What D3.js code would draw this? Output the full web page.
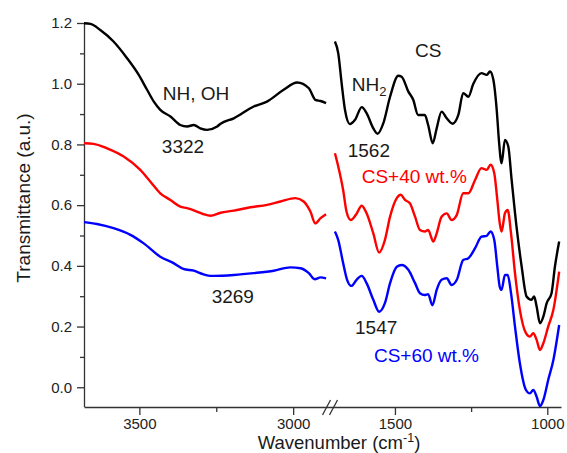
<!DOCTYPE html>
<html>
<head>
<meta charset="utf-8">
<script src="https://cdn.jsdelivr.net/npm/d3@7"></script>
<style>
  body { margin: 0; background: #fff; }
  svg { display: block; font-family: Arial, "Liberation Sans", sans-serif; }
</style>
</head>
<body>
<div id="chart"></div>
<script>
// FTIR spectra, [wavenumber cm-1, transmittance a.u.]
var csLeft = [[3680,1.199],[3659,1.197],[3627,1.177],[3584,1.139],[3540,1.084],[3502,1.029],[3475,0.980],
    [3453,0.941],[3432,0.914],[3399,0.892],[3367,0.864],[3345,0.859],[3323,0.864],[3302,0.853],[3280,0.848],
    [3247,0.859],[3236,0.868],[3193,0.886],[3128,0.925],[3085,0.941],[3031,0.980],[2987,1.004],[2949,0.985],
    [2928,0.947],[2911,0.943],[2893,0.936]];
var csRight = [[1697,1.139],[1686,1.100],[1675,1.002],[1664,0.914],[1648,0.867],[1631,0.881],[1609,0.923],
    [1593,0.903],[1571,0.853],[1557,0.835],[1538,0.870],[1516,0.957],[1489,1.026],[1478,1.023],[1456,0.974],
    [1440,0.947],[1424,0.897],[1402,0.897],[1391,0.864],[1376,0.804],[1363,0.853],[1347,0.908],[1330,0.886],
    [1311,0.868],[1292,0.897],[1276,0.969],[1259,0.957],[1243,0.999],[1216,1.035],[1199,1.029],[1188,1.040],
    [1177,1.013],[1166,0.914],[1158,0.804],[1150,0.738],[1139,0.815],[1128,0.793],[1117,0.683],[1101,0.529],
    [1084,0.397],[1068,0.299],[1052,0.288],[1043,0.299],[1035,0.266],[1024,0.211],[1013,0.233],[1002,0.277],
    [986,0.310],[975,0.397],[961,0.480]];

var cs40Left = [[3680,0.804],[3649,0.802],[3605,0.787],[3551,0.760],[3497,0.716],[3464,0.677],[3432,0.639],
    [3399,0.617],[3367,0.595],[3345,0.590],[3313,0.579],[3291,0.570],[3269,0.565],[3236,0.575],[3193,0.582],
    [3139,0.593],[3085,0.601],[3041,0.612],[2993,0.623],[2966,0.612],[2944,0.579],[2928,0.540],[2911,0.557],
    [2893,0.570]];
var cs40Right = [[1697,0.771],[1686,0.727],[1670,0.650],[1659,0.579],[1645,0.551],[1628,0.568],[1609,0.598],
    [1593,0.573],[1571,0.507],[1552,0.444],[1533,0.485],[1516,0.562],[1494,0.623],[1481,0.634],[1467,0.617],
    [1451,0.606],[1434,0.562],[1418,0.518],[1402,0.513],[1391,0.518],[1374,0.480],[1363,0.507],[1347,0.562],
    [1330,0.573],[1314,0.551],[1297,0.568],[1276,0.639],[1259,0.639],[1237,0.683],[1216,0.722],[1199,0.716],
    [1186,0.733],[1174,0.705],[1164,0.617],[1156,0.540],[1150,0.513],[1139,0.573],[1130,0.584],[1119,0.507],
    [1106,0.376],[1090,0.255],[1070,0.178],[1057,0.167],[1046,0.178],[1035,0.156],[1024,0.123],[1013,0.145],
    [997,0.200],[980,0.255],[961,0.381]];

var cs60Left = [[3680,0.544],[3638,0.538],[3584,0.524],[3529,0.502],[3486,0.474],[3432,0.430],[3389,0.409],
    [3357,0.390],[3323,0.384],[3291,0.372],[3269,0.367],[3258,0.367],[3193,0.370],[3128,0.376],[3063,0.384],
    [3009,0.395],[2976,0.392],[2949,0.376],[2930,0.356],[2911,0.362],[2893,0.359]];
var cs60Right = [[1697,0.513],[1686,0.485],[1670,0.409],[1657,0.354],[1643,0.334],[1626,0.354],[1609,0.367],
    [1593,0.343],[1571,0.288],[1552,0.249],[1533,0.277],[1516,0.343],[1494,0.397],[1478,0.403],[1456,0.387],
    [1434,0.343],[1418,0.310],[1402,0.304],[1391,0.307],[1377,0.270],[1363,0.321],[1347,0.354],[1330,0.359],
    [1314,0.337],[1297,0.354],[1276,0.419],[1259,0.425],[1237,0.458],[1216,0.496],[1199,0.499],[1186,0.513],
    [1174,0.485],[1164,0.397],[1156,0.331],[1150,0.321],[1139,0.370],[1130,0.370],[1119,0.310],[1106,0.200],
    [1090,0.079],[1070,-0.009],[1057,-0.020],[1046,-0.009],[1035,-0.031],[1024,-0.062],[1013,-0.042],
    [997,0.024],[980,0.090],[961,0.205]];

var xTicks = [3500, 3000, 1500, 1000];
var xMinorTicks = [3250, 1250];
var yTicks = [0, 0.2, 0.4, 0.6, 0.8, 1.0, 1.2];
var yMinorTicks = [0.1, 0.3, 0.5, 0.7, 0.9, 1.1];

// annotations: text, wavenumber, transmittance (baseline-left)
var notes = [
    { text: 'NH, OH', wn: 3424, t: 0.947, color: '#1a1a1a' },
    { text: '3322', wn: 3427, t: 0.772, color: '#1a1a1a' },
    { text: '3269', wn: 3265, t: 0.278, color: '#1a1a1a' },
    { text: 'CS', wn: 1434, t: 1.088, color: '#1a1a1a' },
    { text: '1562', wn: 1655, t: 0.759, color: '#1a1a1a' },
    { text: 'CS+40 wt.%', wn: 1609, t: 0.672, color: '#ff0000' },
    { text: '1547', wn: 1631, t: 0.176, color: '#1a1a1a' },
    { text: 'CS+60 wt.%', wn: 1569, t: 0.084, color: '#0000ff' }
];

var width = 567, height = 453;
var svg = d3.select('#chart').append('svg')
    .attr('width', width)
    .attr('height', height);

// broken axis: 3680-2890 on the left, 1700-955 on the right
var x = d3.scaleLinear()
    .domain([3680, 2890, 1700, 955])
    .range([84, 327, 334, 561]);
var y = d3.scaleLinear()
    .domain([-0.065, 1.2])
    .range([407, 23]);

var axisColor = '#333';

var xAxis = svg.append('g')
    .attr('transform', 'translate(0,407)')
    .call(d3.axisBottom(x).tickValues(xTicks).tickSize(8).tickSizeOuter(0).tickPadding(3)
        .tickFormat(d3.format('d')));
var xMinor = svg.append('g')
    .attr('transform', 'translate(0,407)')
    .call(d3.axisBottom(x).tickValues(xMinorTicks).tickSize(5).tickFormat(''));
xMinor.select('.domain').remove();

var yAxis = svg.append('g')
    .attr('transform', 'translate(84,0)')
    .call(d3.axisLeft(y).tickValues(yTicks).tickSize(7).tickSizeOuter(0).tickPadding(5)
        .tickFormat(d3.format('.1f')));
yAxis.select('.domain').attr('d', 'M0.5,' + y(1.2) + 'V' + y.range()[0]);
var yMinor = svg.append('g')
    .attr('transform', 'translate(84,0)')
    .call(d3.axisLeft(y).tickValues(yMinorTicks).tickSize(4).tickFormat(''));
yMinor.select('.domain').remove();

svg.selectAll('.domain, .tick line')
    .attr('stroke', axisColor)
    .attr('stroke-width', 1.3);
svg.selectAll('.tick text')
    .attr('fill', '#222')
    .style('font-size', '15px')
    .style('font-family', 'Arial, "Liberation Sans", sans-serif');

// break marks on the x axis
var breakMid = (x(2890) + x(1700)) / 2;
svg.selectAll('.breakMark')
    .data([-4, 3])
    .enter().append('line')
    .attr('class', 'breakMark')
    .attr('x1', function (d) { return breakMid + d - 4; })
    .attr('y1', 415)
    .attr('x2', function (d) { return breakMid + d + 4; })
    .attr('y2', 400)
    .attr('stroke', axisColor)
    .attr('stroke-width', 1.3);

var line = d3.line()
    .x(function (d) { return x(d[0]); })
    .y(function (d) { return y(d[1]); })
    .curve(d3.curveMonotoneX);

var series = [
    { data: csLeft, color: '#000000' },
    { data: csRight, color: '#000000' },
    { data: cs40Left, color: '#ff0000' },
    { data: cs40Right, color: '#ff0000' },
    { data: cs60Left, color: '#0000ff' },
    { data: cs60Right, color: '#0000ff' }
];
svg.selectAll('.spectrum')
    .data(series)
    .enter().append('path')
    .attr('class', 'spectrum')
    .attr('d', function (d) { return line(d.data); })
    .attr('fill', 'none')
    .attr('stroke', function (d) { return d.color; })
    .attr('stroke-width', 2.4)
    .attr('stroke-linejoin', 'round');

svg.selectAll('.note')
    .data(notes)
    .enter().append('text')
    .attr('class', 'note')
    .attr('x', function (d) { return x(d.wn); })
    .attr('y', function (d) { return y(d.t); })
    .attr('fill', function (d) { return d.color; })
    .style('font-size', '19px')
    .text(function (d) { return d.text; });

// NH2 with subscript
var nh2 = svg.append('text')
    .attr('x', x(1642))
    .attr('y', y(0.977))
    .attr('fill', '#1a1a1a')
    .style('font-size', '19px');
nh2.append('tspan').text('NH');
nh2.append('tspan').attr('dy', 5).style('font-size', '13px').text('2');

// axis titles
var xTitle = svg.append('text')
    .attr('x', 339)
    .attr('y', 449)
    .attr('text-anchor', 'middle')
    .attr('fill', '#1a1a1a')
    .style('font-size', '18.5px');
xTitle.append('tspan').text('Wavenumber (cm');
xTitle.append('tspan').attr('dy', -7).style('font-size', '12.5px').text('-1');
xTitle.append('tspan').attr('dy', 7).text(')');

svg.append('text')
    .attr('transform', 'translate(30,198) rotate(-90)')
    .attr('text-anchor', 'middle')
    .attr('fill', '#1a1a1a')
    .style('font-size', '19px')
    .text('Transmittance (a.u.)');
</script>
</body>
</html>
